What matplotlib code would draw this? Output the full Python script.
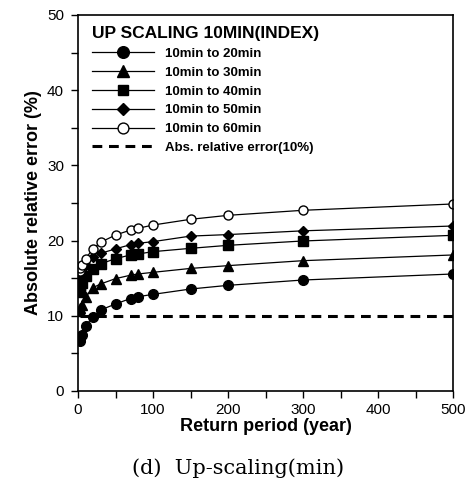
import matplotlib
matplotlib.use("Agg")
import matplotlib.pyplot as plt
from matplotlib.ticker import MultipleLocator

return_period = [2, 3, 5, 10, 20, 30, 50, 70, 80, 100, 150, 200, 300, 500]
err_20 = [6.7, 7.0, 7.45, 8.64, 9.88, 10.77, 11.57, 12.3, 12.54, 12.85, 13.56, 14.05, 14.76, 15.56]
err_30 = [10.6, 11.0, 11.4, 12.46, 13.74, 14.23, 14.94, 15.4, 15.56, 15.78, 16.3, 16.67, 17.33, 18.09]
err_40 = [13.2, 13.7, 14.3, 15.3, 16.22, 16.9, 17.6, 18.09, 18.22, 18.53, 18.97, 19.37, 19.95, 20.7]
err_50 = [14.9, 15.2, 15.7, 16.75, 17.8, 18.3, 18.9, 19.46, 19.64, 19.86, 20.6, 20.8, 21.3, 21.94]
err_60 = [16.0, 16.4, 16.8, 17.6, 18.9, 19.77, 20.74, 21.4, 21.63, 22.07, 22.83, 23.36, 24.03, 24.87]
threshold_x = [2, 500]
threshold_y = [10, 10]

labels = ["10min to 20min", "10min to 30min", "10min to 40min",
          "10min to 50min", "10min to 60min", "Abs. relative error(10%)"]
legend_title = "UP SCALING 10MIN(INDEX)"

plt.rcParams['font.family'] = ['Liberation Sans', 'DejaVu Sans']

fig = plt.figure(figsize=(4.71, 4.8), dpi=100)
ax = fig.add_axes([78/471, 89/480, 375/471, 376/480])

lw = 0.9
ax.plot(return_period, err_20, '-', color='black', lw=lw, marker='o', ms=7, mfc='black', mec='black', label=labels[0])
ax.plot(return_period, err_30, '-', color='black', lw=lw, marker='^', ms=7, mfc='black', mec='black', label=labels[1])
ax.plot(return_period, err_40, '-', color='black', lw=lw, marker='s', ms=6.5, mfc='black', mec='black', label=labels[2])
ax.plot(return_period, err_50, '-', color='black', lw=lw, marker='D', ms=5.5, mfc='black', mec='black', label=labels[3])
ax.plot(return_period, err_60, '-', color='black', lw=lw, marker='o', ms=6.5, mfc='white', mec='black', mew=1.0, label=labels[4])
ax.plot(threshold_x, threshold_y, '--', color='black', lw=2.2, dashes=(3.2, 2.2), label=labels[5])

ax.set_xlim(0, 500)
ax.set_ylim(0, 50)
ax.xaxis.set_major_locator(MultipleLocator(100))
ax.xaxis.set_minor_locator(MultipleLocator(50))
ax.yaxis.set_major_locator(MultipleLocator(10))
ax.yaxis.set_minor_locator(MultipleLocator(5))
ax.tick_params(which='both', direction='out', top=False, right=False, width=1.0, labelsize=11)
ax.tick_params(which='major', length=5)
ax.tick_params(which='minor', length=5)
ax.tick_params(axis='y', pad=5)
for s in ax.spines.values():
    s.set_linewidth(1.2)

ax.set_xlabel("Return period (year)", fontsize=13, fontweight='bold', labelpad=1)
ax.set_ylabel("Absolute relative error (%)", fontsize=13, fontweight='bold', labelpad=4)

leg = ax.legend(title=legend_title, loc='upper left', frameon=False,
                prop={'weight': 'bold', 'size': 9.5},
                title_fontproperties={'weight': 'bold', 'size': 12.5},
                alignment='left', handlelength=4.7, handletextpad=0.85,
                labelspacing=0.5, borderaxespad=0.3, markerscale=1.2,
                bbox_to_anchor=(0.012, 0.995))

fig.text(238/471, 12/480, "(d)  Up-scaling(min)", ha='center', va='center',
         fontsize=15, family=['DejaVu Serif'])

fig.savefig("out.png", dpi=100)
